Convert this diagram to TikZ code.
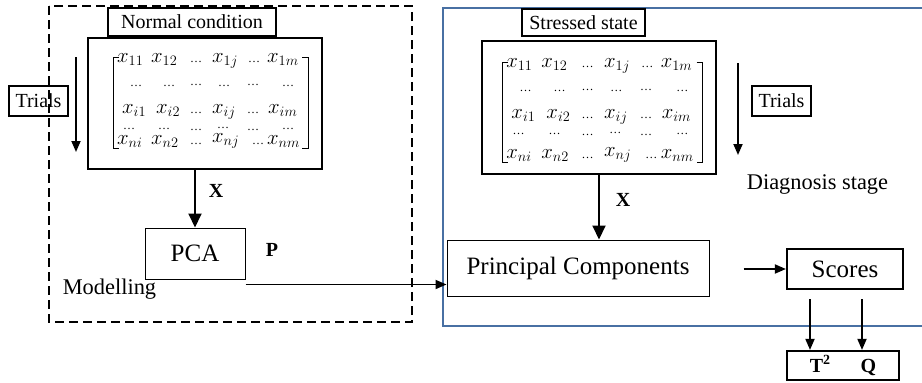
\documentclass[tikz,border=0pt]{standalone}
\usepackage{fontspec}
\setmainfont{Liberation Serif}
\usetikzlibrary{arrows.meta}

\definecolor{stageblue}{RGB}{72,112,163}

\tikzset{
  boxed/.style={draw, rectangle, inner sep=0pt, anchor=center},
  labelbox/.style={boxed, line width=1.6pt, font=\fontsize{20}{24}\selectfont},
  matbox/.style={boxed, line width=2.2pt},
  procbox/.style={boxed, line width=1pt, font=\fontsize{25}{30}\selectfont},
  thickbox/.style={boxed, line width=2.2pt},
  flow/.style={line width=2pt, -{Triangle[length=14pt,width=13pt]}},
  thinflow/.style={line width=1.8pt, -{Triangle[length=11pt,width=9pt]}},
  caption/.style={font=\fontsize{22.4}{26}\selectfont, inner sep=0pt},
  varname/.style={font=\fontsize{20}{24}\selectfont\bfseries, inner sep=0pt},
  entry/.style={anchor=base west, inner sep=0pt, font=\fontsize{22}{22}\selectfont},
  gap/.style={anchor=base west, inner sep=0pt, font=\fontsize{12}{12}\selectfont},
  bracket/.style={line width=0.9pt},
}

% entries of an n x m data matrix, placed relative to the top of its left bracket
% #1 name prefix, #2 baseline of the last row, #3 lower end of the brackets
\newcommand{\matrixbody}[3]{%
  \foreach \px/\py/\val [count=\k] in {
      4/7/$x_{11}$, 38/7/$x_{12}$, 99/7/$x_{1j}$, 154/7/$x_{1m}$,
      9/58/$x_{i1}$, 43/58/$x_{i2}$, 99/58/$x_{ij}$, 155/58/$x_{im}$,
      4/#2/$x_{ni}$, 38/#2/$x_{n2}$, 99/#2-2/$x_{nj}$, 154/#2/$x_{nm}$}
    {\node[entry] (#1-x\k) at (\px,\py) {\val};}
  \foreach \px/\py [count=\k] in {
      77/7, 135/7,
      17/31, 50/31, 77/30, 105/31, 134/30, 169/31,
      77/58, 134/58,
      10/74, 45/74, 77/75, 104/73, 134/75, 169/74,
      77/#2, 139/#2}
    {\node[gap] (#1-d\k) at (\px,\py) {…};}
  \draw[bracket] (6,2) -- (0,2) -- (0,#3) -- (6,#3);
  \draw[bracket] (189,2) -- (195,2) -- (195,#3) -- (189,#3);
}

\begin{document}
\begin{tikzpicture}[x=1pt, y=-1pt]
\useasboundingbox (0,0) rectangle (922,383);

% ---------- Modelling stage ----------
\draw[line width=1.8pt, dash pattern=on 9pt off 5pt] (49,6) rectangle (412,322);

\node[matbox, minimum width=234pt, minimum height=131pt] (mat1) at (205,103.5) {};
\begin{scope}[shift={(113,55)}]
  \matrixbody{ma}{89}{93}
\end{scope}
\node[labelbox, minimum width=168pt, minimum height=28pt, fill=white] (normal) at (192,22) {Normal condition};

\node[labelbox, minimum width=59pt, minimum height=30pt] (trials1) at (38.5,101) {Trials};
\coordinate (t1top) at (76,57);
\coordinate (t1bot) at (76,152);
\draw[thinflow] (t1top) -- (t1bot);

\node[procbox, minimum width=100pt, minimum height=51pt] (pca) at (195,253.5) {PCA};
\draw[flow] (pca.north |- mat1.south) -- (pca.north);
\node[varname] (x1) at (216,191) {X};

\node[varname] (plabel) at (272,250) {P};
\node[caption] (modelling) at (109.5,289) {Modelling};

% ---------- Diagnosis stage ----------
\draw[stageblue, line width=2pt] (930,8) -- (443,8) -- (443,326) -- (930,326);

\node[matbox, minimum width=234pt, minimum height=133pt] (mat2) at (599,107.5) {};
\begin{scope}[shift={(502,60)}, x=1.03pt]
  \matrixbody{mb}{98}{102}
\end{scope}
\node[labelbox, minimum width=123pt, minimum height=27pt, fill=white] (stressed) at (583.5,22.5) {Stressed state};

\coordinate (t2top) at (738,63);
\coordinate (t2bot) at (738,155);
\draw[thinflow] (t2top) -- (t2bot);
\node[labelbox, minimum width=59pt, minimum height=30pt] (trials2) at (781.5,101) {Trials};
\node[caption] (diag) at (817.5,184) {Diagnosis stage};

\node[procbox, minimum width=262pt, minimum height=56pt] (pc) at (578,268) {Principal Components};
\draw[flow] (mat2.south) -- (mat2.south |- pc.north);
\node[varname] (x2) at (623,200) {X};

\draw[thinflow] ([yshift=-5pt]pca.south east) -- ([yshift=-5pt]pca.south east -| pc.west);

\node[thickbox, minimum width=116pt, minimum height=40pt, font=\fontsize{25}{30}\selectfont] (scores) at (845,269) {Scores};
\draw[thinflow, shorten <=34pt] (pc.east |- scores.west) -- (scores.west);

\node[thickbox, minimum width=112pt, minimum height=29pt, font=\fontsize{20}{24}\selectfont\bfseries] (tq) at (843,365.5)
  {T\textsuperscript{2}\hspace{30pt}Q\hspace{16pt}};
\draw[thinflow, shorten <=9pt] ([xshift=-35pt]scores.south) -- ([xshift=-35pt]scores.south |- tq.north);
\draw[thinflow, shorten <=9pt] ([xshift=17pt]scores.south) -- ([xshift=17pt]scores.south |- tq.north);
\end{tikzpicture}
\end{document}
